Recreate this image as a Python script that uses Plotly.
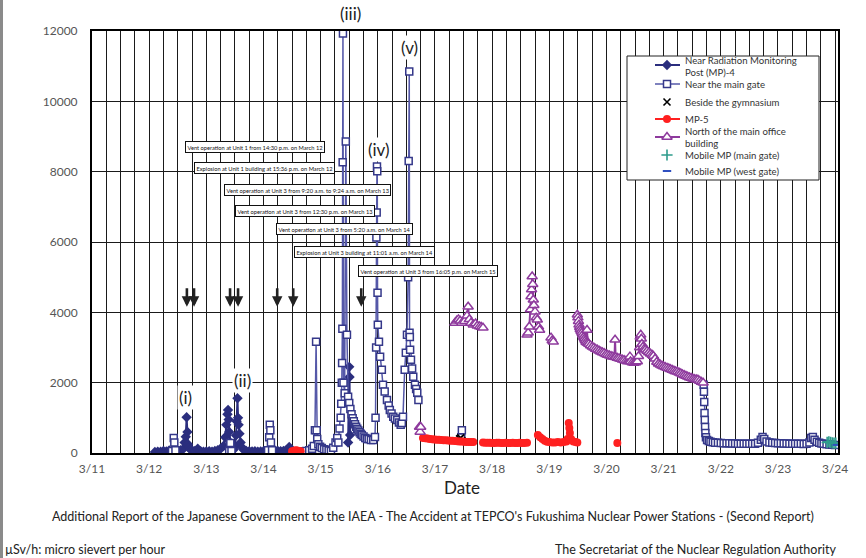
import plotly.graph_objects as go
from datetime import datetime, timedelta

BASE = datetime(2011, 3, 11)

# ---------------- data (days after 3/11 00:00, µSv/h) ----------------
mp4_days = [1.10, 1.15, 1.20, 1.25, 1.30, 1.35, 1.40, 1.45, 1.50, 1.55, 1.60, 1.62, 1.64, 1.655, 1.67, 1.68,
            1.70, 1.72, 1.75, 1.80, 1.85, 1.90, 1.95, 2.00, 2.05, 2.10, 2.15, 2.20, 2.25, 2.30, 2.33, 2.35,
            2.37, 2.38, 2.39, 2.40, 2.42, 2.45, 2.48, 2.50, 2.52, 2.53, 2.545, 2.555, 2.565, 2.58, 2.60,
            2.63, 2.66, 2.70, 2.75, 2.80, 2.85, 2.90, 2.95, 3.00, 3.05, 3.10, 3.15, 3.20, 3.25, 3.30, 3.35,
            3.40, 3.45, 3.48, None, 4.48, 4.50, 4.505, 4.515]
mp4_vals = [30, 40, 35, 60, 45, 70, 50, 90, 60, 80, 120, 300, 460, 1015, 600, 250,
            150, 100, 80, 60, 120, 50, 40, 45, 50, 40, 60, 80, 120, 200, 450, 800,
            1100, 1225, 950, 600, 300, 150, 100, 200, 500, 900, 1557, 1000, 800, 550, 300,
            150, 80, 60, 50, 45, 50, 40, 45, 50, 45, 50, 60, 70, 60, 50, 60,
            80, 170, 60, None, 300, 2450, 2160, 510]

gate_days = [1.40, 1.43, 1.44, 1.46, None,
             2.40, 2.42, 2.44, None,
             3.08, 3.10, 3.11, 3.12, 3.13, 3.15, None,
             3.67, 3.70, 3.75, 3.80, 3.85, 3.88, 3.90, 3.92, 3.93, 3.94, 3.96, 3.99, 4.02, 4.06, 4.10,
             4.14, 4.18, 4.22, 4.26, 4.29, 4.31, 4.33, 4.35, 4.36, 4.37, 4.375, 4.38, 4.385, 4.39, 4.40,
             4.42, 4.44, 4.46, 4.48, 4.50, 4.52, 4.54, 4.56, 4.58, 4.60, 4.62, 4.64, 4.66, 4.68, 4.70,
             4.72, 4.75, 4.78, 4.81, 4.84, 4.88, 4.92, 4.95, 4.96, 4.97, 4.975, 4.98, 4.985, 4.99, 4.995,
             5.00, 5.02, 5.04, 5.07, 5.09, 5.12, 5.16, 5.19, 5.21, 5.24, 5.27, 5.30, 5.34, 5.37, 5.40,
             5.42, 5.44, 5.47, 5.49, 5.51, 5.53, 5.54, 5.55, 5.555, 5.56, 5.565, 5.58, 5.60, 5.62, 5.65,
             5.67, 5.69, 5.71, None,
             6.46, 6.47, None,
             10.70, 10.705, 10.71, 10.715, 10.72, 10.725, 10.73, 10.74, 10.76, 10.79, 10.82, 10.86, 10.90,
             10.95, 11.00, 11.05, 11.10, 11.15, 11.20, 11.25, 11.30, 11.35, 11.40, 11.45, 11.50, 11.55,
             11.60, 11.65, 11.70, 11.73, 11.76, 11.80, 11.85, 11.90, 11.95, 12.00, 12.05, 12.10, 12.15,
             12.20, 12.25, 12.30, 12.35, 12.40, 12.45, 12.50, 12.55, 12.58, 12.61, 12.64, 12.68, 12.72,
             12.76, 12.80, 12.85, 12.90, 12.95, 13.00]
gate_vals = [60, 430, 300, 80, None,
             60, 285, 60, None,
             80, 450, 800, 650, 300, 80, None,
             50, 40, 60, 80, 120, 200, 650, 3160, 650, 400, 250, 180, 140, 110, 90,
             70, 60, 150, 300, 430, 300, 700, 1000, 1400, 2000, 2560, 3530, 8265, 11930, 2000,
             1700, 8860, 3360, 1600, 1425, 1250, 1100, 990, 900, 820, 750, 690, 640, 590, 550,
             510, 470, 430, 400, 400, 370, 370, 456, 1000, 3000, 6130, 6840, 8150, 8010, 4560,
             3650, 3160, 2740, 2370, 1940, 1750, 1510, 1350, 1225, 1120, 1030, 980, 940, 870, 800,
             850, 1030, 2370, 2850, 3360, 5000, 8300, 10850, 3420, 3300, 2935, 2650, 2400, 2170, 1940,
             1820, 1710, 1510, None,
             450, 650, None,
             1940, 1740, 1450, 1140, 940, 740, 570, 450, 370, 340, 320, 305, 295,
             290, 285, 280, 275, 275, 270, 270, 265, 265, 260, 260, 260, 260,
             265, 290, 380, 456, 400, 330, 300, 290, 285, 280, 275, 270, 270,
             265, 265, 260, 260, 260, 255, 260, 300, 430, 456, 380, 320, 290,
             270, 260, 250, 240, 235, 230]

gym_days = [6.43, 6.45, 6.47]
gym_vals = [400, 430, 350]

mp5_days = [3.50, 3.53, 3.56, 3.59, 3.62, 3.65, None,
            5.79, 5.83, 5.87, 5.91, 5.95, 5.99, 6.03, 6.07, 6.11, 6.15, 6.19, 6.23, 6.27, 6.31, 6.35,
            6.39, 6.43, 6.47, 6.51, 6.55, 6.59, 6.63, 6.67, None,
            6.84, 6.88, 6.92, 6.96, 7.00, 7.04, 7.08, 7.12, 7.16, 7.20, 7.24, 7.28, 7.32, 7.36, 7.40,
            7.44, 7.48, 7.52, 7.56, 7.61, None,
            7.80, 7.84, 7.88, 7.92, 7.96, 8.00, 8.05, 8.10, 8.15, 8.20, 8.25, 8.30, 8.32, 8.34, 8.35,
            8.36, 8.38, 8.42, 8.46, 8.49, None,
            9.19]
mp5_vals = [50, 60, 80, 70, 60, 50, None,
            430, 420, 410, 400, 390, 385, 380, 375, 370, 365, 360, 355, 350, 345, 340,
            335, 330, 325, 320, 315, 315, 310, 310, None,
            300, 295, 290, 290, 285, 285, 290, 290, 285, 285, 290, 285, 285, 290, 285,
            285, 290, 285, 285, 290, None,
            510, 450, 400, 350, 320, 310, 300, 300, 310, 300, 310, 330, 400, 855, 710,
            570, 400, 330, 310, 300, None,
            285]

north_days = [5.73, 5.74, 5.75, None,
              6.35, 6.38, 6.41, 6.44, 6.47, 6.52, 6.56, 6.58, 6.60, 6.63, 6.67, 6.71, 6.74, 6.78, 6.81,
              6.84, None,
              7.61, 7.63, 7.65, 7.67, 7.68, 7.69, 7.70, 7.71, 7.72, 7.73, 7.75, 7.77, 7.79, 7.81, 7.83,
              None, 8.03, 8.05, 8.07, None,
              8.49, 8.50, 8.51, 8.52, 8.53, 8.54, 8.555, 8.57, 8.585, 8.60, 8.615, 8.63, 8.645, 8.66,
              8.67, 8.69, 8.72, 8.75, 8.78, 8.81, 8.84, 8.87, 8.90, 8.93, 8.96, 8.99, 9.02, 9.05, 9.08,
              9.11, 9.14, 9.15, 9.16, 9.19, 9.22, 9.25, 9.28, 9.31, 9.34, 9.37, 9.40, 9.41, 9.42, 9.45,
              9.48, 9.51, 9.54, 9.56, 9.58, 9.59, 9.60, 9.61, 9.62, 9.64, 9.66, 9.68, 9.71, 9.74, 9.77,
              9.80, 9.82, 9.85, 9.88, 9.91, 9.94, 9.97, 10.00, 10.03, 10.06, 10.09, 10.12, 10.15, 10.18,
              10.21, 10.24, 10.27, 10.30, 10.33, 10.36, 10.39, 10.42, 10.45, 10.48, 10.51, 10.54, 10.57,
              10.60, 10.63, 10.66, 10.69]
north_vals = [740, 600, 740, None,
              3700, 3760, 3800, 3760, 3700, 3750, 3900, 4160, 3800, 3700, 3650, 3680, 3620, 3600, 3580,
              3560, None,
              3360, 3420, 3590, 4080, 4450, 4650, 5020, 4800, 4360, 4200, 4020, 3850, 3790, 3590, 3500,
              None, 3280, 3200, 3160, None,
              3930, 3850, 3750, 3650, 3580, 3520, 3470, 3420, 3360, 3300, 3250, 3200, 3150, 3500,
              3130, 3100, 3060, 3020, 2990, 2960, 2935, 2910, 2880, 2860, 2840, 2810, 2790, 2770, 2750,
              2740, 2730, 3220, 2720, 2700, 2690, 2670, 2650, 2640, 2620, 2600, 2610, 2740, 2600, 2570,
              2560, 2570, 2600, 2750, 3000, 3300, 3360, 3250, 3100, 3020, 2960, 2935, 2900, 2860, 2820,
              2790, 2760, 2680, 2590, 2540, 2510, 2480, 2460, 2440, 2420, 2400, 2380, 2360, 2340,
              2320, 2310, 2280, 2260, 2230, 2210, 2190, 2170, 2150, 2130, 2110, 2100, 2090,
              2080, 2050, 2020, 2000]

mobile_main_days = [12.86, 12.89, 12.92, 12.95, 12.98, 13.01]
mobile_main_vals = [300, 320, 300, 290, 280, 280]

mobile_west_days = [13.03]
mobile_west_vals = [230]

event_days = [1.66, 1.785, 2.415, 2.555, 3.24, 3.52, 4.71]
event_head_val = 4160

box_texts = ["Vent operation at Unit 1 from 14:30 p.m. on March 12",
             "Explosion at Unit 1 building at 15:36 p.m. on March 12",
             "Vent operation at Unit 3 from 9:20 a.m. to 9:24 a.m. on March 13",
             "Vent operation at Unit 3 from 12:30 p.m. on March 13",
             "Vent operation at Unit 3 from 5:20 a.m. on March 14",
             "Explosion at Unit 3 building at 11:01 a.m. on March 14",
             "Vent operation at Unit 3 from 16:05 p.m. on March 15"]
box_days = [2.843, 3.018, 3.762, 3.727, 4.409, 4.759, 5.879]
box_vals = [8693, 8094, 7467, 6869, 6384, 5729, 5187]

peak_labels = ["(i)", "(ii)", "(iii)", "(iv)", "(v)"]
peak_days = [1.63, 2.64, 4.53, 5.02, 5.56]
peak_vals = [1568, 2052, 12510, 8635, 11540]

y_max = 12000
x_start_day = 0
x_end_day = 13.05

# ---------------- styles ----------------
FONT = "Lato, Carlito, 'Open Sans', sans-serif"
NAVY = "#2B2E7E"
GATE_EDGE = "#35388A"
GATE_LINE = "#5558A8"
RED = "#FF2020"
PURPLE = "#8E3A9D"
TEAL = "#2E9C8C"
WEST = "#3050C0"

# figure geometry (pixels) used for placing the hand-made legend and footer
W, H = 866, 558
PL, PR, PT, PB = 92, 838, 31, 453


def fx(px):
    return (px - PL) / (PR - PL)


def fy(py):
    return (PB - py) / (PB - PT)


def to_dates(days):
    return [None if d is None else (BASE + timedelta(days=d)).strftime("%Y-%m-%d %H:%M:%S") for d in days]


styles = {
    "mp4": dict(mode="lines+markers", line=dict(color=NAVY, width=2),
                marker=dict(symbol="diamond", size=8, color=NAVY)),
    "gate": dict(mode="lines+markers", line=dict(color=GATE_LINE, width=1.5),
                 marker=dict(symbol="square", size=7, color="white", line=dict(color=GATE_EDGE, width=1.5))),
    "gym": dict(mode="markers",
                marker=dict(symbol="x-thin", size=7, color="black", line=dict(color="black", width=1.6))),
    "mp5": dict(mode="lines+markers", line=dict(color=RED, width=2),
                marker=dict(symbol="circle", size=8, color=RED)),
    "north": dict(mode="lines+markers", line=dict(color=PURPLE, width=2),
                  marker=dict(symbol="triangle-up", size=9, color="white",
                              line=dict(color=PURPLE, width=1.5))),
    "mmain": dict(mode="markers",
                  marker=dict(symbol="cross-thin", size=8, color=TEAL, line=dict(color=TEAL, width=1.6))),
    "mwest": dict(mode="markers",
                  marker=dict(symbol="line-ew", size=6, color=WEST, line=dict(color=WEST, width=2))),
}

series = [
    ("mp4", mp4_days, mp4_vals),
    ("gate", gate_days, gate_vals),
    ("gym", gym_days, gym_vals),
    ("mp5", mp5_days, mp5_vals),
    ("north", north_days, north_vals),
    ("mmain", mobile_main_days, mobile_main_vals),
    ("mwest", mobile_west_days, mobile_west_vals),
]

# legend rows: key, sample y (px), label, label centre y (px)
legend_rows = [
    ("mp4", 65, "Near Radiation Monitoring<br>Post (MP)-4", 66),
    ("gate", 84, "Near the main gate", 84),
    ("gym", 102, "Beside the gymnasium", 102),
    ("mp5", 119, "MP-5", 119),
    ("north", 137, "North of the main office<br>building", 137),
    ("mmain", 155, "Mobile MP (main gate)", 155),
    ("mwest", 171, "Mobile MP (west gate)", 171),
]
LEG_BOX = (627, 56, 819, 180)
LEG_LINE_X = (655, 680)
LEG_MARK_X = 667
LEG_TEXT_X = 683

fig = go.Figure()

for key, d, v in series:
    fig.add_trace(go.Scatter(x=to_dates(d), y=v, showlegend=False, hoverinfo="skip", **styles[key]))

# hand-made legend on an overlay axis spanning the plot area (0..1)
bx0, bx1 = fx(LEG_BOX[0]), fx(LEG_BOX[2])
by0, by1 = fy(LEG_BOX[3]), fy(LEG_BOX[1])
fig.add_trace(go.Scatter(x=[bx0, bx1, bx1, bx0, bx0], y=[by0, by0, by1, by1, by0],
                         mode="lines", fill="toself", fillcolor="white",
                         line=dict(color="#222", width=1), xaxis="x2", yaxis="y2",
                         showlegend=False, hoverinfo="skip"))
for key, sy, _, _ in legend_rows:
    st = styles[key]
    if "lines" in st["mode"]:
        fig.add_trace(go.Scatter(x=[fx(LEG_LINE_X[0]), fx(LEG_LINE_X[1])], y=[fy(sy), fy(sy)],
                                 mode="lines", line=st["line"], xaxis="x2", yaxis="y2",
                                 showlegend=False, hoverinfo="skip"))
    fig.add_trace(go.Scatter(x=[fx(LEG_MARK_X)], y=[fy(sy)], mode="markers", marker=st["marker"],
                             xaxis="x2", yaxis="y2", showlegend=False, hoverinfo="skip"))

annotations = []
for d in event_days:
    annotations.append(dict(x=to_dates([d])[0], y=event_head_val, xref="x", yref="y", text="",
                            showarrow=True, ax=0, ay=-20, arrowhead=2, arrowsize=0.8,
                            arrowwidth=2.6, arrowcolor="#222"))
for t, d, v in zip(box_texts, box_days, box_vals):
    annotations.append(dict(x=to_dates([d])[0], y=v, xref="x", yref="y", text=t, showarrow=False,
                            font=dict(family=FONT, size=5.7, color="#111"),
                            bgcolor="white", bordercolor="#111", borderwidth=1, borderpad=1.5))
for t, d, v in zip(peak_labels, peak_days, peak_vals):
    annotations.append(dict(x=to_dates([d])[0], y=v / y_max, xref="x", yref="paper", text=t,
                            showarrow=False, xanchor="center", yanchor="middle",
                            font=dict(family=FONT, size=17, color="#222"), bgcolor="white"))

for _, _, label, ty in legend_rows:
    annotations.append(dict(x=fx(LEG_TEXT_X), y=fy(ty), xref="paper", yref="paper", text=label,
                            showarrow=False, xanchor="left", yanchor="middle", align="left",
                            font=dict(family=FONT, size=9.6, color="#333")))

annotations += [
    dict(x=fx(462), y=fy(487), xref="paper", yref="paper", text="Date", showarrow=False,
         xanchor="center", yanchor="middle", font=dict(family=FONT, size=17, color="#222")),
    dict(x=fx(432.5), y=fy(516), xref="paper", yref="paper", showarrow=False,
         xanchor="center", yanchor="middle",
         text="Additional Report of the Japanese Government to the IAEA - The Accident at TEPCO's "
              "Fukushima Nuclear Power Stations - (Second Report)",
         font=dict(family=FONT, size=12.5, color="#222")),
    dict(x=fx(3), y=fy(549), xref="paper", yref="paper", xanchor="left", yanchor="middle",
         showarrow=False, text="µSv/h: micro sievert per hour",
         font=dict(family=FONT, size=12.5, color="#222")),
    dict(x=fx(838), y=fy(549), xref="paper", yref="paper", xanchor="right", yanchor="middle",
         showarrow=False, text="The Secretariat of the Nuclear Regulation Authority",
         font=dict(family=FONT, size=12.5, color="#222")),
]

shapes = [
    dict(type="line", xref="paper", yref="paper",
         x0=fx(1.5), x1=fx(1.5), y0=fy(H), y1=fy(0),
         line=dict(color="#8a8a8a", width=3)),
]

fig.update_layout(
    width=W, height=H,
    margin=dict(l=PL, r=W - PR, t=PT, b=H - PB),
    paper_bgcolor="white", plot_bgcolor="white",
    font=dict(family=FONT, color="#333"),
    showlegend=False,
    annotations=annotations,
    shapes=shapes,
    xaxis=dict(
        type="date",
        range=to_dates([x_start_day, x_end_day]),
        tick0=to_dates([0])[0], dtick=86400000, tickformat="%-m/%-d",
        showgrid=True, gridcolor="#1a1a1a", gridwidth=1,
        minor=dict(dtick=6 * 3600000, showgrid=True, gridcolor="#1a1a1a", gridwidth=1),
        showline=True, linecolor="black", linewidth=2, mirror=True,
        ticks="", ticklabelstandoff=4, tickfont=dict(family=FONT, size=12, color="#555"),
        zeroline=False,
    ),
    yaxis=dict(
        range=[0, y_max], dtick=2000, tickformat="d",
        showgrid=True, gridcolor="#1a1a1a", gridwidth=1,
        showline=True, linecolor="black", linewidth=2, mirror=True,
        ticks="", ticklabelstandoff=10,
        tickfont=dict(family=FONT, size=12, color="#555"), zeroline=False,
    ),
    xaxis2=dict(overlaying="x", range=[0, 1], visible=False, fixedrange=True),
    yaxis2=dict(overlaying="y", range=[0, 1], visible=False, fixedrange=True),
)

fig.write_html("out.html", config={"displayModeBar": False},
               post_script="document.body.style.margin='0px';")
